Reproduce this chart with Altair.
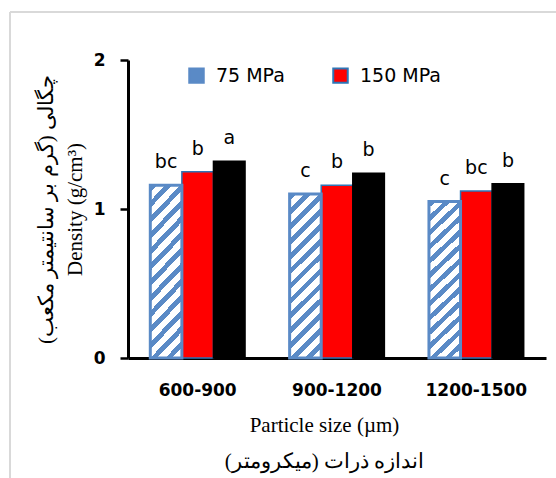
import altair as alt
import pandas as pd

# ---- data ----
groups = ["600-900", "900-1200", "1200-1500"]
series = ["75 MPa", "150 MPa", "225 MPa"]
values_75 = [1.16, 1.10, 1.05]
values_150 = [1.25, 1.16, 1.12]
values_225 = [1.32, 1.24, 1.17]
letters_75 = ["bc", "c", "c"]
letters_150 = ["b", "b", "bc"]
letters_225 = ["a", "b", "b"]
y_ticks = [0, 1, 2]

rows = []
for s, vals, lets in zip(series, [values_75, values_150, values_225],
                         [letters_75, letters_150, letters_225]):
    for g, v, l in zip(groups, vals, lets):
        rows.append({"group": g, "series": s, "value": v, "letter": l})
df = pd.DataFrame(rows)

# ---- styling ----
BLUE = "#5a8ac6"
RED = "#ff0000"
EDGE = "#2e75b6"

# diagonal hatch approximated with a sharp-stop linear gradient
w, h = 31.6, 165.0
c = (1 / h + 1 / w) / (1 / h ** 2 + 1 / w ** 2)
gx2, gy2 = c / h, c / w
period_px = 15.0
n_per = (w + h) / period_px
stops = []
k = 0
while k / n_per < 1:
    a = k / n_per
    b = min((k + 0.45) / n_per, 1)
    e = min((k + 1) / n_per, 1)
    stops += [alt.GradientStop(offset=a, color=BLUE),
              alt.GradientStop(offset=b, color=BLUE),
              alt.GradientStop(offset=b, color="white"),
              alt.GradientStop(offset=e, color="white")]
    k += 1
hatch = alt.LinearGradient(gradient="linear", stops=stops, x1=0, y1=0, x2=gx2, y2=gy2)

x_enc = alt.X(
    "group:N", sort=groups,
    scale=alt.Scale(paddingInner=0.32, paddingOuter=0.16),
    axis=alt.Axis(
        title=["Particle size (µm)", "اندازه ذرات (میکرومتر)"],
        labelAngle=0, ticks=False, domainColor="black", domainWidth=3,
        labelFont="DejaVu Sans", labelFontWeight="bold", labelFontSize=17,
        labelColor="black", labelPadding=24,
        titleFont="Liberation Serif", titleFontSize=21, titleFontWeight="normal",
        titleColor="black", titleLineHeight=36, titlePadding=16, titleX=196,
    ),
)
xoff = alt.XOffset("series:N", scale=alt.Scale(domain=series, paddingInner=0, paddingOuter=0))
y_enc = alt.Y(
    "value:Q",
    scale=alt.Scale(domain=[0, 2], nice=False),
    axis=alt.Axis(
        values=y_ticks, grid=False, format=".0f", labelOverlap=False,
        title=["چگالی (گرم بر سانتیمتر مکعب)", "Density (g/cm³)"],
        domainColor="black", domainWidth=3, tickColor="black", tickWidth=2.5,
        tickSize=8, labelFont="DejaVu Sans", labelFontWeight="bold",
        labelFontSize=17, labelColor="black", labelPadding=15,
        titleFont="Liberation Serif", titleFontSize=21, titleFontWeight="normal",
        titleColor="black", titleLineHeight=29, titlePadding=8,
    ),
)

base = alt.Chart(df)

bars = base.mark_bar(strokeWidth=1.5).encode(
    x=x_enc, xOffset=xoff, y=y_enc,
    fill=alt.Fill("series:N", scale=alt.Scale(domain=series, range=[BLUE, RED, "#000000"]),
                  legend=alt.Legend(
                      values=["75 MPa", "150 MPa"], title=None, orient="none",
                      legendX=59, legendY=6, direction="horizontal", padding=0,
                      symbolType="square", symbolSize=210, symbolStrokeWidth=2,
                      labelFont="DejaVu Sans", labelFontSize=19, labelColor="black",
                      labelOffset=10, columnPadding=44)),
    stroke=alt.Stroke("series:N", scale=alt.Scale(domain=series, range=[BLUE, EDGE, "#000000"])),
).transform_filter("datum.series != '75 MPa'")

hatched = base.mark_bar(fill=hatch, stroke=BLUE, strokeWidth=3).encode(
    x=x_enc, xOffset=xoff, y=y_enc,
).transform_filter("datum.series == '75 MPa'")

labels = base.mark_text(dy=-17, font="DejaVu Sans", fontSize=19, color="black",
                        baseline="alphabetic", align="center").encode(
    x=x_enc, xOffset=xoff, y=y_enc, text="letter:N",
)

frame_df = pd.DataFrame({"k": [0]})
frame_top = alt.Chart(frame_df).mark_rule(color="#d9d9d9", strokeWidth=2).encode(
    x=alt.value(-118), x2=alt.value(440), y=alt.value(-48))
frame_left = alt.Chart(frame_df).mark_rule(color="#d9d9d9", strokeWidth=2).encode(
    x=alt.value(-118), y=alt.value(-48), y2=alt.value(420))

chart = alt.layer(bars, hatched, labels, frame_top, frame_left).properties(
    width=418, height=298,
    autosize=alt.AutoSizeParams(type="none"),
    padding={"left": 128, "top": 60, "right": 10, "bottom": 120},
    background="white",
).configure_view(stroke=None)

chart.save("out.html", embed_options={"renderer": "svg", "actions": False})
